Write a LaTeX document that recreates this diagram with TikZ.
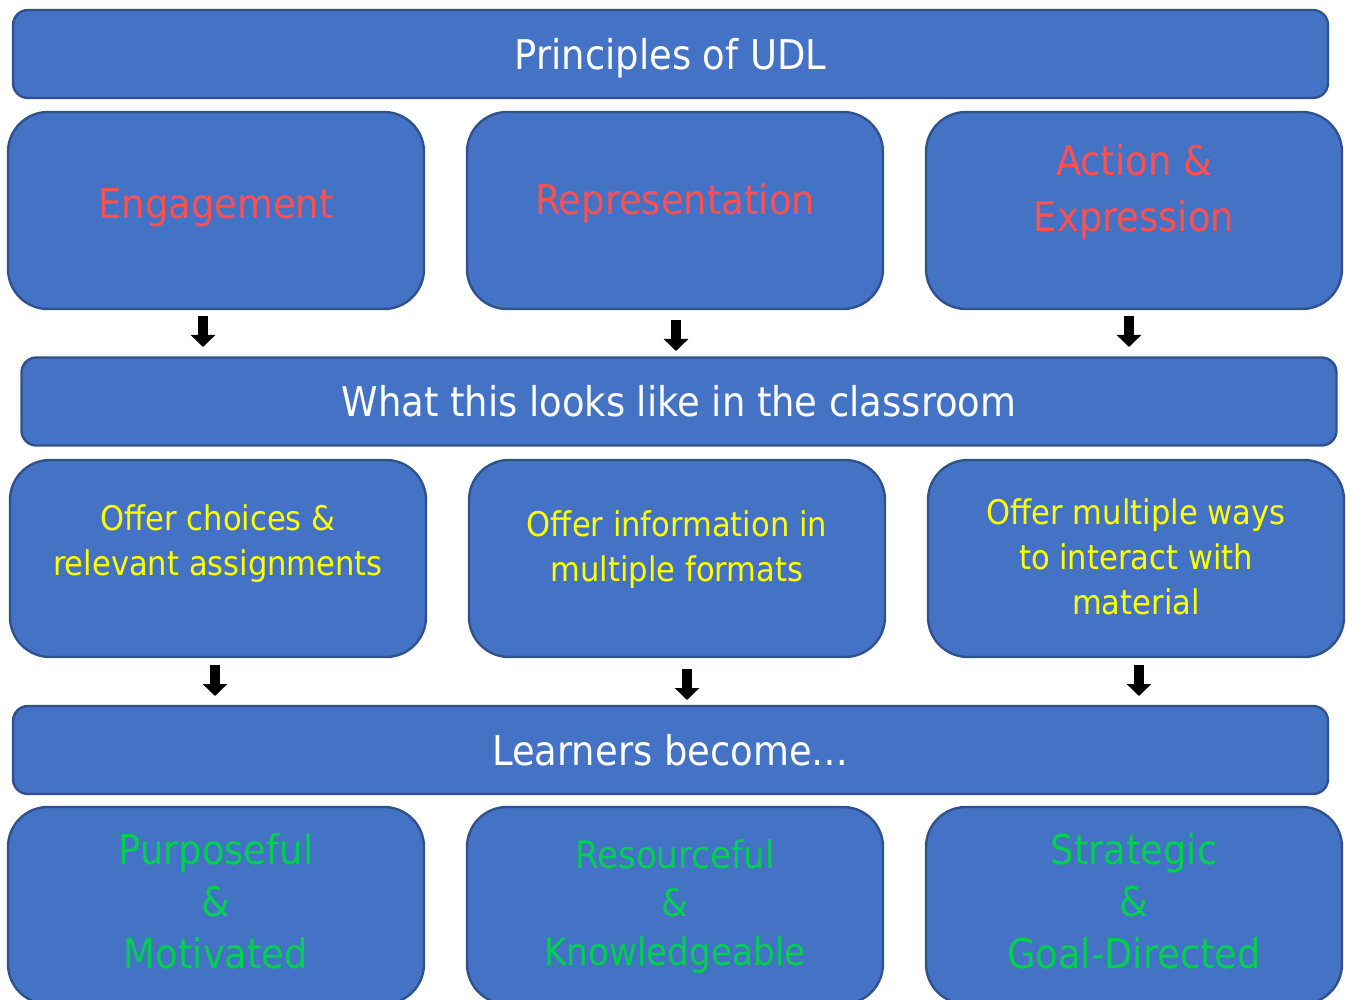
\documentclass[tikz,border=0pt]{standalone}
\usepackage{fontspec}
\setmainfont{DejaVu Sans Condensed}
\usetikzlibrary{arrows.meta}
\definecolor{udlblue}{HTML}{4472C4}
\definecolor{udledge}{HTML}{2F528F}
\definecolor{udlred}{HTML}{FF5050}
\definecolor{udlyellow}{HTML}{FFFF00}
\definecolor{udlgreen}{HTML}{00D050}
% last line's baseline put #1 above the node centre
\newcommand\udltxt[2]{\raisebox{#1}[0pt][0pt]{\begin{tabular}[b]{@{}c@{}}#2\end{tabular}}}
\tikzset{
  udl_node/.style = {inner sep=0pt, text centered,
    fill=udlblue, draw=udledge, line width=1.2pt},
  udl_bar/.style = {udl_node, rounded corners=7.5pt, text=white,
    minimum width=657.5pt, minimum height=44pt,
    font=\fontsize{20.5pt}{24pt}\selectfont},% bande de titre
  udl_box/.style = {udl_node, rounded corners=20pt,
    minimum width=208pt, minimum height=98.5pt},% bloc arrondi
  udl_red/.style = {udl_box, text=udlred,
    font=\fontsize{20.5pt}{28pt}\selectfont},% principe
  udl_yel/.style = {udl_box, text=udlyellow,
    font=\fontsize{17pt}{22.5pt}\selectfont},% en classe
  udl_grn/.style = {udl_box, text=udlgreen,
    font=\fontsize{20.5pt}{26pt}\selectfont},% apprenants
  udl_arrow/.style = {line width=5pt, -{Triangle[width=12pt,length=6pt]}},
}

\begin{document}
\begin{tikzpicture}[x=0.5pt,y=-0.5pt]
\useasboundingbox (0,0) rectangle (1346,1000);
\clip (0,0) rectangle (1346,1000);

\node [udl_bar] (udl) at (670.5,54) {\udltxt{-8pt}{Principles of UDL}};
\node [udl_red] (eng) at (216,210.5) {\udltxt{-3.9pt}{Engagement}};
\node [udl_red] (rep) at (675,210.5) {\udltxt{-1.9pt}{Representation}};
\node [udl_red] (act) at (1134,210.5) {\udltxt{-10.75pt}{Action \&\\Expression}};

\node [udl_bar] (class) at (679,401.5) {\udltxt{-7.6pt}{What this looks like in the classroom}};
\node [udl_yel] (choice) at (218,558.5) {\udltxt{-8.75pt}{Offer choices \&\\relevant assignments}};
\node [udl_yel] (info) at (677,558.5) {\udltxt{-11.6pt}{Offer information in\\multiple formats}};
\node [udl_yel] (ways) at (1136,558.5) {\udltxt{-27.9pt}{Offer multiple ways\\to interact with\\material}};

\node [udl_bar] (learn) at (670.5,750) {\udltxt{-7.5pt}{Learners become…}};
\node [udl_grn] (purp) at (216,905.5) {\udltxt{-31.4pt}{Purposeful\\\&\\Motivated}};
\node [udl_grn, font=\fontsize{19pt}{24.2pt}\selectfont] (reso) at (675,905.5)
  {\udltxt{-29.75pt}{Resourceful\\\&\\Knowledgeable}};
\node [udl_grn] (strat) at (1134,905.5) {\udltxt{-31.4pt}{Strategic\\\&\\Goal-Directed}};

% fleches
\coordinate (a1) at (203,316);  \coordinate (b1) at (203,347);
\coordinate (a2) at (676,320);  \coordinate (b2) at (676,351);
\coordinate (a3) at (1129,316); \coordinate (b3) at (1129,347);
\coordinate (a4) at (215,665);  \coordinate (b4) at (215,696);
\coordinate (a5) at (687,669);  \coordinate (b5) at (687,700);
\coordinate (a6) at (1139,665); \coordinate (b6) at (1139,696);
\foreach \i in {1,...,6}
  \draw [udl_arrow] (a\i) -- (b\i);
\end{tikzpicture}
\end{document}
